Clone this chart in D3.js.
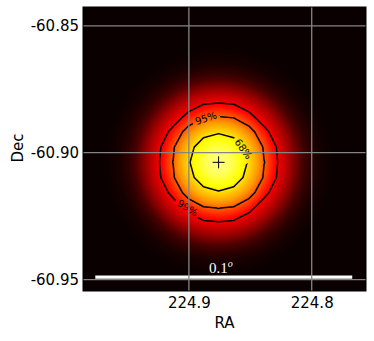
<!DOCTYPE html>
<html>
<head>
<meta charset="utf-8">
<script src="https://cdn.jsdelivr.net/npm/d3@7"></script>
<style>
body { margin: 0; background: #fff; }
text { font-family: "DejaVu Sans", sans-serif; }
</style>
</head>
<body>
<div id="chart"></div>
<script>
// axes
const raTicks = [224.9, 224.8];
const decTicks = [-60.85, -60.90, -60.95];
const raRange = [224.9862, 224.7558];
const decRange = [-60.9545, -60.8426];

// best fit position, error radius (deg on sky) and confidence levels
const source = [224.8758, -60.9038];
const sigma = 0.0074;
const levels = [0.68, 0.95, 0.99];
const levelLabels = ["68%", "95%", "99%"];
const labelRa = [224.8556, 224.8862, 224.9011];
const labelDec = [-60.8985, -60.8864, -60.9217];
const labelAngle = [54, -18, 32];

// radial profile of the map: offset from source (deg) -> colour value
const profileR = [0, 0.004, 0.0099, 0.0119, 0.0158, 0.0186, 0.0217, 0.0277, 0.0328, 0.0356, 0.0395, 0.045];
const profileV = [0.87, 0.85, 0.74, 0.69, 0.59, 0.49, 0.39, 0.24, 0.1, 0.055, 0.018, 0];

// scale bar
const barRa = [224.9762, 224.767];
const barDec = -60.949;
const barLabel = "0.1";

let margin = {top: 7, right: 8, bottom: 50, left: 83},
    width = 374 - margin.left - margin.right,
    height = 341 - margin.top - margin.bottom;

const svg = d3.select("#chart")
  .append("svg")
    .attr("width", width + margin.left + margin.right)
    .attr("height", height + margin.top + margin.bottom)
  .append("g")
    .attr("transform", "translate(" + margin.left + "," + margin.top + ")");

let x = d3.scaleLinear().domain(raRange).range([0, width]);
let y = d3.scaleLinear().domain(decRange).range([height, 0]);

// matplotlib "hot"
function hot(v) {
  let r = Math.min(1, 0.0416 + (1 - 0.0416) * v / 0.365079);
  let g = Math.max(0, Math.min(1, (v - 0.365079) / (0.746032 - 0.365079)));
  let b = Math.max(0, Math.min(1, (v - 0.746032) / (1 - 0.746032)));
  return [r * 255, g * 255, b * 255];
}

let cosd = Math.cos(source[1] * Math.PI / 180);
let prof = d3.scaleLinear().domain(profileR).range(profileV).clamp(true);

// map image
let canvas = document.createElement("canvas");
canvas.width = width;
canvas.height = height;
let ctx = canvas.getContext("2d");
let img = ctx.createImageData(width, height);
for (let j = 0; j < height; j++) {
  for (let i = 0; i < width; i++) {
    let dx = (x.invert(i + 0.5) - source[0]) * cosd;
    let dy = y.invert(j + 0.5) - source[1];
    let c = hot(prof(Math.hypot(dx, dy)));
    let k = (j * width + i) * 4;
    img.data[k] = c[0];
    img.data[k + 1] = c[1];
    img.data[k + 2] = c[2];
    img.data[k + 3] = 255;
  }
}
ctx.putImageData(img, 0, 0);

svg.append("image")
  .attr("href", canvas.toDataURL())
  .attr("width", width)
  .attr("height", height)
  .attr("preserveAspectRatio", "none");

// confidence contours on a coarse grid round the source
let h = 0.006, n = 17, c0 = (n - 1) / 2;
let grid = [];
for (let j = 0; j < n; j++) {
  for (let i = 0; i < n; i++) {
    grid.push(Math.exp(-((i - c0) ** 2 + (j - c0) ** 2) * h * h / (2 * sigma * sigma)));
  }
}
let contours = d3.contours().size([n, n]).thresholds(levels.map(p => 1 - p))(grid);
let path = d3.geoPath(d3.geoTransform({
  point: function(px, py) {
    let ra = source[0] - (px - 0.5 - c0) * h / cosd;
    let dec = source[1] - (py - 0.5 - c0) * h;
    this.stream.point(x(ra), y(dec));
  }
}));

// gaps for the labels
let mask = svg.append("mask").attr("id", "labelgap");
mask.append("rect").attr("width", width).attr("height", height).attr("fill", "#fff");
mask.selectAll("rect.gap")
  .data(levelLabels)
  .enter()
  .append("rect")
    .attr("class", "gap")
    .attr("x", -14).attr("y", -7).attr("width", 28).attr("height", 14)
    .attr("fill", "#000")
    .attr("transform", (d, i) => "translate(" + x(labelRa[i]) + "," + y(labelDec[i]) + ")rotate(" + labelAngle[i] + ")");

svg.append("g")
  .attr("mask", "url(#labelgap)")
  .selectAll("path")
  .data(contours)
  .enter()
  .append("path")
    .attr("d", path)
    .attr("fill", "none")
    .attr("stroke", "#000")
    .attr("stroke-width", 1.5)
    .attr("stroke-linejoin", "round");

svg.selectAll("text.clabel")
  .data(levelLabels)
  .enter()
  .append("text")
    .attr("class", "clabel")
    .attr("transform", (d, i) => "translate(" + x(labelRa[i]) + "," + y(labelDec[i]) + ")rotate(" + labelAngle[i] + ")")
    .attr("text-anchor", "middle")
    .attr("dy", "0.36em")
    .style("font-size", "10px")
    .attr("fill", "#000")
    .text(d => d);

// best fit marker
let sx = x(source[0]), sy = y(source[1]);
svg.append("path")
  .attr("d", "M" + (sx - 6) + "," + sy + "H" + (sx + 6) + "M" + sx + "," + (sy - 6) + "V" + (sy + 6))
  .attr("stroke", "#000")
  .attr("stroke-width", 1);

// scale bar
svg.append("line")
  .attr("x1", x(barRa[0]))
  .attr("x2", x(barRa[1]))
  .attr("y1", y(barDec))
  .attr("y2", y(barDec))
  .attr("stroke", "#fff")
  .attr("stroke-width", 3.3);

let bl = svg.append("text")
  .attr("x", (x(barRa[0]) + x(barRa[1])) / 2 - 3)
  .attr("y", y(barDec) - 4)
  .attr("text-anchor", "middle")
  .attr("fill", "#fff")
  .style("font-family", "'Liberation Serif', serif")
  .style("font-size", "15px");
bl.append("tspan").text(barLabel);
bl.append("tspan")
  .attr("dy", -6)
  .style("font-size", "10px")
  .style("font-style", "italic")
  .text("o");

// grid
svg.selectAll("line.gx")
  .data(raTicks)
  .enter()
  .append("line")
    .attr("x1", d => x(d)).attr("x2", d => x(d))
    .attr("y1", 0).attr("y2", height)
    .attr("stroke", "#858585")
    .attr("stroke-width", 1.3);
svg.selectAll("line.gy")
  .data(decTicks)
  .enter()
  .append("line")
    .attr("y1", d => y(d)).attr("y2", d => y(d))
    .attr("x1", 0).attr("x2", width)
    .attr("stroke", "#858585")
    .attr("stroke-width", 1.3);

svg.append("rect")
  .attr("width", width)
  .attr("height", height)
  .attr("fill", "none")
  .attr("stroke", "#000")
  .attr("stroke-width", 1);

// axes
svg.append("g")
  .attr("transform", "translate(0," + height + ")")
  .call(d3.axisBottom(x).tickValues(raTicks).tickSize(0).tickPadding(6).tickFormat(d => d.toFixed(1)))
  .call(g => g.select(".domain").remove())
  .selectAll("text")
    .style("font-size", "15px")
    .style("font-family", "'DejaVu Sans'")
    .attr("fill", "#000");

svg.append("g")
  .call(d3.axisLeft(y).tickValues(decTicks).tickSize(0).tickPadding(4).tickFormat(d => d.toFixed(2)))
  .call(g => g.select(".domain").remove())
  .selectAll("text")
    .style("font-size", "15px")
    .style("font-family", "'DejaVu Sans'")
    .attr("fill", "#000");

svg.append("text")
  .attr("x", width / 2)
  .attr("y", height + 37)
  .attr("text-anchor", "middle")
  .style("font-size", "15px")
  .text("RA");

svg.append("text")
  .attr("transform", "translate(" + (23 - margin.left) + "," + (148 - margin.top) + ")rotate(-90)")
  .attr("text-anchor", "middle")
  .style("font-size", "15px")
  .text("Dec");
</script>
</body>
</html>
